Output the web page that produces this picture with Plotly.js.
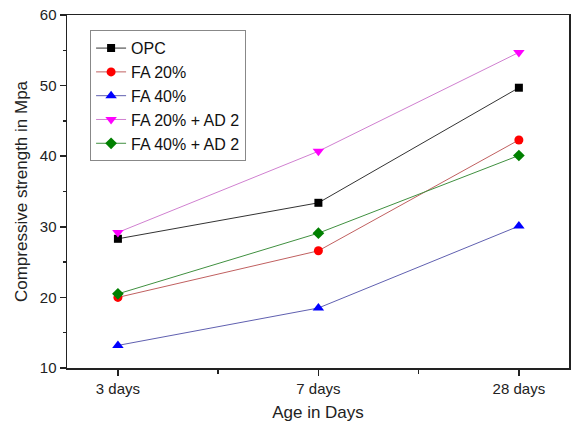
<!DOCTYPE html>
<html>
<head>
<meta charset="utf-8">
<script src="https://cdn.plot.ly/plotly-3.0.1.min.js"></script>
<style>html,body{margin:0;padding:0;background:#fff;}#chart{width:572px;height:425px;}</style>
</head>
<body>
<div id="chart"></div>
<script>
const categories = ["3 days", "7 days", "28 days"];
const seriesNames = ["OPC", "FA 20%", "FA 40%", "FA 20% + AD 2", "FA 40% + AD 2"];
const opc = [28.3, 33.4, 49.7];
const fa20 = [20.0, 26.6, 42.3];
const fa40 = [13.2, 18.5, 30.1];
const fa20ad2 = [29.2, 40.7, 54.7];
const fa40ad2 = [20.5, 29.1, 40.1];

const seriesValues = [opc, fa20, fa40, fa20ad2, fa40ad2];
const colors = ["#000000", "#ff0000", "#0000ff", "#ff00ff", "#008000"];
const lineColors = ["#333333", "#c06060", "#6060b0", "#d080d0", "#409040"];
const symbols = ["square", "circle", "triangle-up", "triangle-down", "diamond"];
const sizes = [8, 9, 10, 10, 9];

const xIdx = categories.map((_, i) => i);
const traces = seriesValues.map((vals, k) => ({
  type: "scatter",
  mode: "lines+markers",
  name: seriesNames[k],
  x: xIdx,
  y: vals,
  line: {color: lineColors[k], width: 1},
  marker: {color: colors[k], symbol: symbols[k], size: sizes[k]}
}));

const layout = {
  width: 572, height: 425,
  margin: {l: 67, r: 3, t: 15, b: 57},
  paper_bgcolor: "#fff", plot_bgcolor: "#fff",
  font: {family: "Liberation Sans, Arial, sans-serif", color: "#222", size: 13},
  showlegend: true,
  legend: {
    x: 0.046, y: 0.957, xanchor: "left", yanchor: "top",
    bordercolor: "#888", borderwidth: 1, bgcolor: "#fff",
    font: {size: 16, color: "#111"},
    tracegroupgap: 0
  },
  xaxis: {
    range: [-0.254, 2.25],
    tickmode: "array", tickvals: xIdx, ticktext: categories,
    ticks: "outside", ticklen: 6, tickwidth: 1.5, tickcolor: "#222",
    minor: {dtick: 0.5, tick0: 0, ticks: "outside", ticklen: 4, tickwidth: 1.5, tickcolor: "#222", showgrid: false},
    showline: true, linecolor: "#222", linewidth: 1.5, mirror: true,
    showgrid: false, zeroline: false,
    tickfont: {size: 15, color: "#222"},
    title: {text: "Age in Days", font: {size: 17, color: "#222"}, standoff: 10}
  },
  yaxis: {
    range: [10, 60],
    tickvals: [10, 20, 30, 40, 50, 60],
    ticks: "outside", ticklen: 6, tickwidth: 1.5, tickcolor: "#222",
    minor: {dtick: 5, tick0: 0, ticks: "outside", ticklen: 3, tickwidth: 1.5, tickcolor: "#222", showgrid: false},
    showline: true, linecolor: "#222", linewidth: 1.5, mirror: true,
    showgrid: false, zeroline: false,
    tickfont: {size: 15, color: "#222"},
    title: {text: "Compressive strength in Mpa", font: {size: 17, color: "#222"}, standoff: 8}
  }
};

Plotly.newPlot("chart", traces, layout, {displayModeBar: false, staticPlot: true});
</script>
</body>
</html>
